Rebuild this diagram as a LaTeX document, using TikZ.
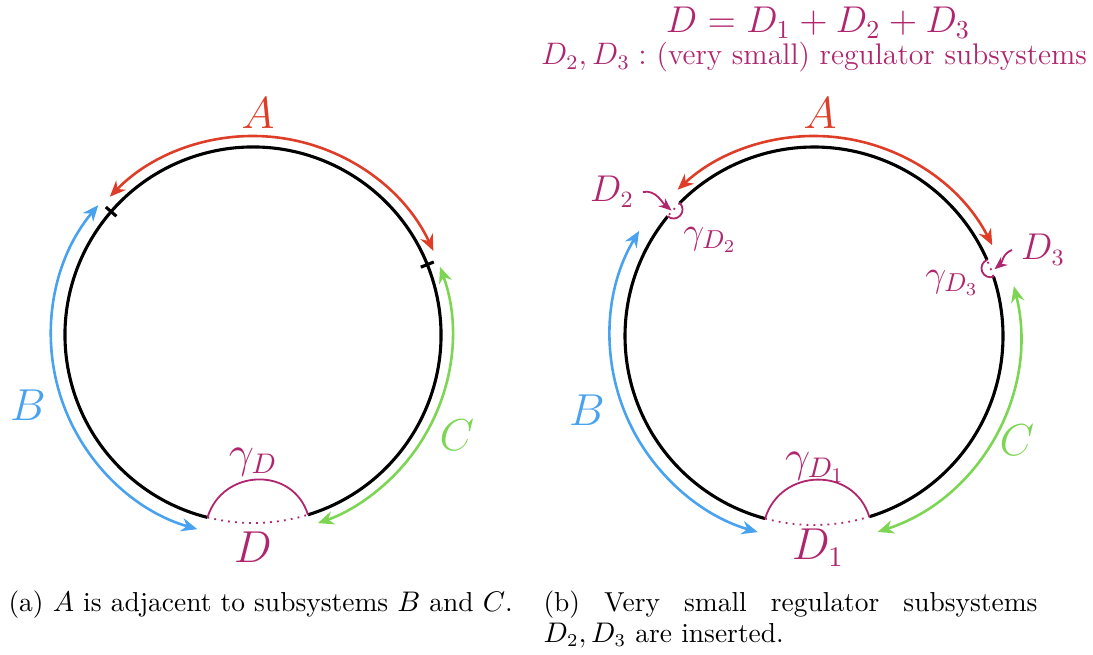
\documentclass[tikz,border=0pt]{standalone}
\usetikzlibrary{arrows.meta,calc}
\definecolor{cred}{RGB}{222,62,40}
\definecolor{cblue}{RGB}{72,162,240}
\definecolor{cgreen}{RGB}{124,214,84}
\definecolor{cmag}{RGB}{176,38,110}
\tikzset{
  circ/.style={line width=1.2pt,black},
  arrw/.style={line width=1pt,{Stealth[length=6.2pt,width=5.2pt]}-{Stealth[length=6.2pt,width=5.2pt]}},
  dotm/.style={cmag,line width=0.7pt,dotted},
  gam/.style={cmag,line width=0.7pt},
  big/.style={font=\fontsize{19}{22}\selectfont},
  mid/.style={font=\fontsize{16}{19}\selectfont},
  sml/.style={font=\fontsize{13.5}{16}\selectfont},
  smlg/.style={font=\fontsize{14.5}{17}\selectfont},
  captxt/.style={inner sep=0pt,font=\fontsize{10.6}{12}\selectfont},
}
\begin{document}
\begin{tikzpicture}[x=0.386pt,y=0.386pt]
\useasboundingbox (0,0) rectangle (1093,654);
% ---------- left ----------
\coordinate (L) at (253,319);
\coordinate (Lp1) at ($(L)+(-104:188)$);
\coordinate (Lp2) at ($(L)+(-73:188)$);
\draw[circ] (Lp2) arc[start angle=-73,end angle=256,radius=188];
\draw[dotm] (Lp1) arc[start angle=-104,end angle=-73,radius=188];
\draw[gam] (Lp1) to[out=73,in=107,looseness=1.3] (Lp2);
\draw[circ] ($(L)+(139:181)$) -- ($(L)+(139:195)$);
\draw[circ] ($(L)+(22:181)$) -- ($(L)+(22:195)$);
\draw[arrw,cred] ($(L)+(25:199)$) arc[start angle=25,end angle=136,radius=199];
\draw[arrw,cblue] ($(L)+(140:202)$) arc[start angle=140,end angle=254,radius=202];
\draw[arrw,cgreen] ($(L)+(20:199)$) arc[start angle=20,end angle=-71,radius=199];
\node[big,text=cred] (lA) at (258,541) {$A$};
\node[big,text=cblue] (lB) at (28,249) {$B$};
\node[big,text=cgreen] (lC) at (457,219) {$C$};
\node[mid,text=cmag] (lg) at (253,192) {$\gamma_D$};
\node[big,text=cmag] (lD) at (253,107) {$D$};
% ---------- right ----------
\coordinate (R) at (814,318);
\coordinate (Rp1) at ($(R)+(-105:189)$);
\coordinate (Rp2) at ($(R)+(-73:189)$);
\draw[circ] (Rp2) arc[start angle=-73,end angle=18.3,radius=189];
\draw[circ] ($(R)+(23.7:189)$) arc[start angle=23.7,end angle=135.3,radius=189];
\draw[circ] ($(R)+(140.7:189)$) arc[start angle=140.7,end angle=255,radius=189];
\draw[dotm] (Rp1) arc[start angle=-105,end angle=-73,radius=189];
\draw[dotm] ($(R)+(135.3:189)$) arc[start angle=135.3,end angle=140.7,radius=189];
\draw[dotm] ($(R)+(18.3:189)$) arc[start angle=18.3,end angle=23.7,radius=189];
\draw[gam] (Rp1) to[out=73,in=107,looseness=1.3] (Rp2);
\coordinate (c2) at ($(R)+(138:189)$);
\coordinate (c3) at ($(R)+(21:189)$);
\draw[gam] ($(c2)+(228:9)$) arc[start angle=228,end angle=408,radius=9];
\draw[gam] ($(c3)+(111:9)$) arc[start angle=111,end angle=291,radius=9];
\draw[arrw,cred] ($(R)+(27:200)$) arc[start angle=27,end angle=133,radius=200];
\draw[arrw,cblue] ($(R)+(149:204)$) arc[start angle=149,end angle=254,radius=204];
\draw[arrw,cgreen] ($(R)+(14:206)$) arc[start angle=14,end angle=-72,radius=206];
\node[big,text=cred] (rA) at (820,541) {$A$};
\node[big,text=cblue] (rB) at (587,244) {$B$};
\node[big,text=cgreen] (rC) at (1017,214) {$C$};
\node[mid,text=cmag] (rg1) at (815,187) {$\gamma_{D_1}$};
\node[mid,text=cmag] (rD1) at (818,106) {$D_1$};
\node[sml,text=cmag] (rD2) at (612,462) {$D_2$};
\node[smlg,text=cmag] (rg2) at (710,414) {$\gamma_{D_2}$};
\node[sml,text=cmag] (rD3) at (1043,404) {$D_3$};
\node[smlg,text=cmag] (rg3) at (952,371) {$\gamma_{D_3}$};
\coordinate (t2) at ($(c2)+(-2,-1)$);
\coordinate (t3) at ($(c3)+(4,-1)$);
\draw[gam,-{Stealth[length=5pt,width=4pt]}] (rD2.east) to[out=10,in=140] (t2);
\draw[gam,-{Stealth[length=5pt,width=4pt]}] (rD3.west) to[out=200,in=40] (t3);
\node[text=cmag,anchor=base,inner sep=0pt,font=\fontsize{14.4}{17}\selectfont] (eq) at (818,621) {$D = D_1 + D_2 + D_3$};
\node[text=cmag,anchor=base,inner sep=0pt,font=\fontsize{11.5}{14}\selectfont] (sub) at (814,589) {$D_2, D_3:$ (very small) regulator subsystems};
% ---------- captions ----------
\node[captxt,anchor=base west] (capa) at (8,43) {(a) $A$ is adjacent to subsystems $B$ and $C$.};
\node[captxt,anchor=base west,text width=190.7pt,align=justify] (capb) at (543,43) {(b) Very small regulator subsystems $D_2, D_3$ are inserted.};
\end{tikzpicture}
\end{document}
